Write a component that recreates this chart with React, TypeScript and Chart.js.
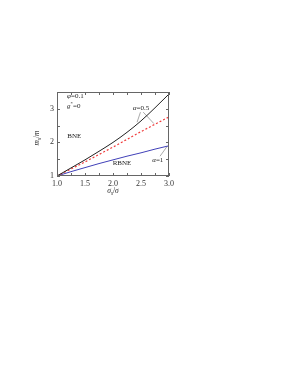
import { useEffect, useRef } from "react";
import { Chart, registerables } from "chart.js";
Chart.register(...registerables);

const xValues = [1, 1.25, 1.5, 1.75, 2, 2.25, 2.5, 2.75, 3];
const blackCurve = [1, 1.24, 1.48, 1.735, 2.0, 2.3, 2.64, 3.03, 3.44];
const redDashed = [1, 1.21, 1.42, 1.64, 1.86, 2.09, 2.32, 2.54, 2.76];
const blueCurve = [1, 1.13, 1.25, 1.37, 1.48, 1.59, 1.69, 1.8, 1.9];

const leaderA = [{ x: 2.49, y: 2.9 }, { x: 2.43, y: 2.6 }];
const leaderB = [{ x: 2.54, y: 2.9 }, { x: 2.73, y: 2.56 }];
const leaderC = [{ x: 2.84, y: 1.59 }, { x: 2.97, y: 1.89 }];

const xTicks = [1, 1.25, 1.5, 1.75, 2, 2.25, 2.5, 2.75, 3];
const yTicks = [1, 1.5, 2, 2.5, 3, 3.5];

type Part = { t: string; it?: boolean; sub?: boolean; sup?: boolean };
type Note = { x: number; y: number; parts: Part[]; align: "left" | "center" };

const notes: Note[] = [
  { x: 1.18, y: 3.37, align: "left", parts: [{ t: "φ", it: true }, { t: "=0.1" }] },
  { x: 1.18, y: 3.09, align: "left", parts: [{ t: "g", it: true }, { t: "*", sup: true }, { t: "=0" }] },
  { x: 1.31, y: 2.19, align: "center", parts: [{ t: "BNE" }] },
  { x: 2.16, y: 1.38, align: "center", parts: [{ t: "RBNE" }] },
  { x: 2.5, y: 3.03, align: "center", parts: [{ t: "α", it: true }, { t: "=0.5" }] },
  { x: 2.8, y: 1.48, align: "center", parts: [{ t: "α", it: true }, { t: "=1" }] },
];

const FONT = "'Liberation Serif', 'DejaVu Serif', serif";

function drawRich(ctx: CanvasRenderingContext2D, parts: Part[], x: number, y: number, size: number, align: "left" | "center") {
  const fontFor = (p: Part) => `${p.it ? "italic " : ""}${p.sub || p.sup ? size * 0.7 : size}px ${FONT}`;
  let total = 0;
  for (const p of parts) {
    ctx.font = fontFor(p);
    total += ctx.measureText(p.t).width;
  }
  let cx = align === "center" ? x - total / 2 : x;
  ctx.textBaseline = "middle";
  ctx.textAlign = "left";
  for (const p of parts) {
    ctx.font = fontFor(p);
    const dy = p.sub ? size * 0.3 : p.sup ? -size * 0.35 : 0;
    ctx.fillText(p.t, cx, y + dy);
    cx += ctx.measureText(p.t).width;
  }
}

const decorPlugin = {
  id: "decor",
  afterDraw(chart: any) {
    const { ctx, chartArea: a, scales } = chart;
    const xs = scales.x;
    const ys = scales.y;
    ctx.save();
    ctx.strokeStyle = "#666";
    ctx.lineWidth = 1;
    ctx.strokeRect(a.left + 0.5, a.top + 0.5, a.right - a.left - 1, a.bottom - a.top - 1);
    ctx.beginPath();
    for (const v of xTicks) {
      const px = Math.round(xs.getPixelForValue(v)) + 0.5;
      ctx.moveTo(px, a.bottom);
      ctx.lineTo(px, a.bottom - 3);
      ctx.moveTo(px, a.top);
      ctx.lineTo(px, a.top + 3);
    }
    for (const v of yTicks) {
      const py = Math.round(ys.getPixelForValue(v)) + 0.5;
      ctx.moveTo(a.left, py);
      ctx.lineTo(a.left + 3, py);
      ctx.moveTo(a.right, py);
      ctx.lineTo(a.right - 3, py);
    }
    ctx.stroke();

    ctx.fillStyle = "#222";
    for (const n of notes) {
      drawRich(ctx, n.parts, xs.getPixelForValue(n.x), ys.getPixelForValue(n.y), 7, n.align);
    }
    drawRich(ctx, [{ t: "σ", it: true }, { t: "s", it: true, sub: true }, { t: "/" }, { t: "σ", it: true }], (a.left + a.right) / 2, a.bottom + 15, 7.5, "center");
    ctx.save();
    ctx.translate(a.left - 20, (a.top + a.bottom) / 2 + 4);
    ctx.rotate(-Math.PI / 2);
    drawRich(ctx, [{ t: "m", it: true }, { t: "s", it: true, sub: true }, { t: "/" }, { t: "m", it: true }], 0, 0, 7.5, "center");
    ctx.restore();
    ctx.restore();
  },
};

export default function App() {
  const ref = useRef<HTMLCanvasElement | null>(null);
  useEffect(() => {
    if (!ref.current) return;
    const pts = (ys: number[]) => xValues.map((x, i) => ({ x, y: ys[i] }));
    const chart = new Chart(ref.current, {
      type: "line",
      data: {
        datasets: [
          { data: pts(blackCurve), borderColor: "#222", borderWidth: 1, pointRadius: 0, cubicInterpolationMode: "monotone" },
          { data: pts(redDashed), borderColor: "#f03c3c", borderWidth: 1.2, borderDash: [2, 2], pointRadius: 0, cubicInterpolationMode: "monotone" },
          { data: pts(blueCurve), borderColor: "#4040b8", borderWidth: 1, pointRadius: 0, cubicInterpolationMode: "monotone" },
          { data: leaderA, borderColor: "#aaa", borderWidth: 1, pointRadius: 0 },
          { data: leaderB, borderColor: "#aaa", borderWidth: 1, pointRadius: 0 },
          { data: leaderC, borderColor: "#aaa", borderWidth: 1, pointRadius: 0 },
        ],
      },
      options: {
        animation: false,
        responsive: false,
        devicePixelRatio: 1,
        layout: { padding: { top: 92, left: 0, right: 122, bottom: 190 } },
        plugins: { legend: { display: false }, tooltip: { enabled: false } },
        scales: {
          x: {
            type: "linear",
            min: 1,
            max: 3,
            grid: { display: false, drawTicks: false },
            border: { display: false },
            afterFit: (s: any) => { s.height = 10; },
            ticks: {
              stepSize: 0.25,
              autoSkip: false,
              maxRotation: 0,
              padding: 3,
              color: "#333",
              font: { family: FONT, size: 8 },
              callback: (v: any) => {
                const n = Number(v);
                return Math.abs(n * 2 - Math.round(n * 2)) < 1e-6 ? n.toFixed(1) : "";
              },
            },
          },
          y: {
            type: "linear",
            min: 1,
            max: 3.5,
            grid: { display: false, drawTicks: false },
            border: { display: false },
            afterFit: (s: any) => { s.width = 57; },
            ticks: {
              stepSize: 0.5,
              autoSkip: false,
              padding: 3,
              color: "#333",
              font: { family: FONT, size: 8 },
              callback: (v: any) => {
                const n = Number(v);
                return Math.abs(n - Math.round(n)) < 1e-6 ? String(n) : "";
              },
            },
          },
        },
      },
      plugins: [decorPlugin],
    } as any);
    return () => chart.destroy();
  }, []);
  return (
    <div style={{ position: "fixed", left: 0, top: 0, width: 291, height: 376, background: "#fff" }}>
      <canvas ref={ref} width={291} height={376} style={{ width: 291, height: 376 }} />
    </div>
  );
}
